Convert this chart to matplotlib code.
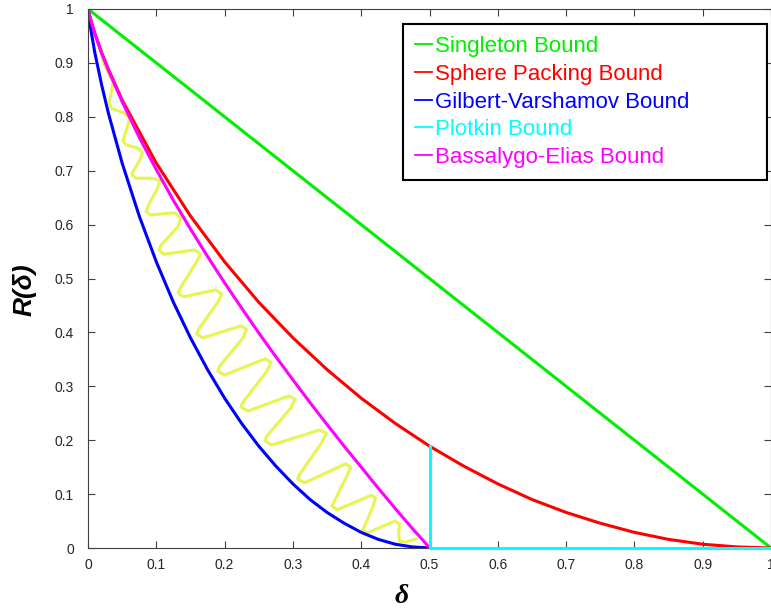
import matplotlib
matplotlib.use('Agg')
import matplotlib.pyplot as plt

plt.rcParams['font.family'] = ['Liberation Sans', 'DejaVu Sans']

# Singleton bound
d_single = [0.0, 1.0]
r_single = [1.0, 0.0]

# Sphere packing (Hamming) bound
d_sphere = [0.0, 0.005, 0.01, 0.02, 0.03, 0.05, 0.10, 0.15, 0.20, 0.25, 0.30, 0.35, 0.40,
            0.45, 0.50, 0.55, 0.60, 0.65, 0.70, 0.75, 0.80, 0.85, 0.90, 0.95, 1.0]
r_sphere = [1.0, 0.975, 0.955, 0.919, 0.888, 0.831, 0.714, 0.616, 0.531, 0.456, 0.390, 0.331, 0.278,
            0.231, 0.189, 0.152, 0.119, 0.090, 0.066, 0.046, 0.029, 0.016, 0.007, 0.002, 0.0]

# Gilbert-Varshamov bound
d_gv = [0.0, 0.005, 0.01, 0.02, 0.03, 0.05, 0.075, 0.10, 0.125, 0.15, 0.175, 0.20, 0.225,
        0.25, 0.275, 0.30, 0.325, 0.35, 0.375, 0.40, 0.425, 0.45, 0.475, 0.5]
r_gv = [1.0, 0.955, 0.919, 0.859, 0.806, 0.714, 0.616, 0.531, 0.456, 0.390, 0.331, 0.278, 0.231,
        0.189, 0.152, 0.119, 0.090, 0.066, 0.046, 0.029, 0.016, 0.007, 0.002, 0.0]

# Plotkin bound
d_plotkin = [0.5, 0.5, 1.0]
r_plotkin = [0.189, 0.0, 0.0]

# Bassalygo-Elias bound
d_elias = [0.0, 0.005, 0.01, 0.02, 0.03, 0.05, 0.075, 0.10, 0.125, 0.15, 0.175, 0.20, 0.225,
           0.25, 0.275, 0.30, 0.325, 0.35, 0.375, 0.40, 0.425, 0.45, 0.475, 0.49, 0.5]
r_elias = [1.0, 0.975, 0.954, 0.918, 0.886, 0.828, 0.762, 0.702, 0.645, 0.592, 0.541, 0.492, 0.445,
           0.399, 0.355, 0.312, 0.270, 0.229, 0.189, 0.150, 0.111, 0.073, 0.036, 0.015, 0.0]

# yellow wavy curve between the GV and Elias bounds
d_wave = [0.016, 0.023, 0.032, 0.037, 0.035, 0.031, 0.034, 0.053, 0.061, 0.058, 0.051, 0.056,
          0.073, 0.080, 0.076, 0.064, 0.070, 0.095, 0.105, 0.102, 0.088, 0.085, 0.091, 0.127,
          0.136, 0.132, 0.107, 0.104, 0.111, 0.156, 0.165, 0.159, 0.135, 0.132, 0.140, 0.187,
          0.196, 0.190, 0.162, 0.159, 0.168, 0.224, 0.232, 0.227, 0.193, 0.190, 0.200, 0.259,
          0.268, 0.262, 0.227, 0.224, 0.234, 0.294, 0.303, 0.297, 0.262, 0.259, 0.269, 0.339,
          0.349, 0.342, 0.310, 0.307, 0.317, 0.377, 0.385, 0.379, 0.360, 0.357, 0.365, 0.415,
          0.421, 0.417, 0.405, 0.402, 0.409, 0.449, 0.456, 0.455, 0.456, 0.465, 0.481]
r_wave = [0.933, 0.900, 0.876, 0.865, 0.850, 0.826, 0.816, 0.807, 0.798, 0.783, 0.755, 0.748,
          0.742, 0.733, 0.720, 0.694, 0.686, 0.686, 0.681, 0.668, 0.635, 0.625, 0.618, 0.622,
          0.612, 0.597, 0.562, 0.553, 0.545, 0.553, 0.545, 0.531, 0.482, 0.473, 0.466, 0.479,
          0.471, 0.456, 0.406, 0.397, 0.390, 0.412, 0.406, 0.390, 0.338, 0.328, 0.321, 0.351,
          0.345, 0.328, 0.271, 0.262, 0.254, 0.282, 0.276, 0.260, 0.208, 0.199, 0.191, 0.219,
          0.213, 0.195, 0.137, 0.128, 0.121, 0.156, 0.150, 0.134, 0.085, 0.078, 0.071, 0.098,
          0.093, 0.076, 0.041, 0.033, 0.028, 0.050, 0.045, 0.028, 0.013, 0.011, 0.017]

ticks = [0, 0.1, 0.2, 0.3, 0.4, 0.5, 0.6, 0.7, 0.8, 0.9, 1]
tick_labels = ['0', '0.1', '0.2', '0.3', '0.4', '0.5', '0.6', '0.7', '0.8', '0.9', '1']

fig = plt.figure(figsize=(7.71, 6.12), dpi=100)
ax = fig.add_axes([88 / 771, 64 / 612, 683 / 771, 539 / 612])

lw = 2.2
ax.plot(d_wave, r_wave, color='#e6f550', lw=lw, solid_joinstyle='round', solid_capstyle='round')
ax.plot(d_single, r_single, color='#00ee00', lw=lw, label='Singleton Bound')
ax.plot(d_sphere, r_sphere, color='#ff0000', lw=lw, label='Sphere Packing Bound')
ax.plot(d_gv, r_gv, color='#0000ff', lw=lw, label='Gilbert-Varshamov Bound')
ax.plot(d_elias, r_elias, color='#ff00ff', lw=lw, label='Bassalygo-Elias Bound', zorder=2.1)
ax.plot(d_plotkin, r_plotkin, color='#00ffff', lw=lw, label='Plotkin Bound',
        zorder=3, clip_on=False)

ax.set_xlim(0, 1)
ax.set_ylim(0, 1)
ax.set_xticks(ticks)
ax.set_xticklabels(tick_labels)
ax.set_yticks(ticks)
ax.set_yticklabels(tick_labels)
ax.tick_params(direction='in', top=True, right=True, length=5, width=0.8,
               color='#404040', labelcolor='#262626', labelsize=10)
ax.tick_params(axis='y', pad=10)
ax.tick_params(axis='x', pad=7)
for s in ax.spines.values():
    s.set_color('#404040')
    s.set_linewidth(0.8)

ax.set_xlabel('δ', fontsize=20, fontweight='bold', fontstyle='italic',
              family=['Liberation Serif', 'DejaVu Serif'], va='top')
ax.xaxis.set_label_coords(0.459, -0.066)
ax.set_ylabel('R(δ)', fontsize=19, fontweight='bold', fontstyle='italic')
ax.yaxis.set_label_coords(-0.075, 0.479)

handles, labels = ax.get_legend_handles_labels()
order = [0, 1, 2, 4, 3]
leg = ax.legend([handles[i] for i in order], [labels[i] for i in order],
                loc='upper left', bbox_to_anchor=(403 / 771, 1 - 428 / 612, 364 / 771, 1 - 24 / 612 - (1 - 428 / 612)),
                bbox_transform=fig.transFigure, mode='expand', borderaxespad=0,
                fontsize=16, handlelength=0.75, handletextpad=0.15, labelspacing=0.3,
                borderpad=0.55, fancybox=False, framealpha=1)
leg.set_zorder(5)
leg.get_frame().set_edgecolor('black')
leg.get_frame().set_linewidth(1.5)
for line, text in zip(leg.get_lines(), leg.get_texts()):
    line.set_linewidth(1.3)
    text.set_color(line.get_color())

fig.savefig('out.png', dpi=100)
